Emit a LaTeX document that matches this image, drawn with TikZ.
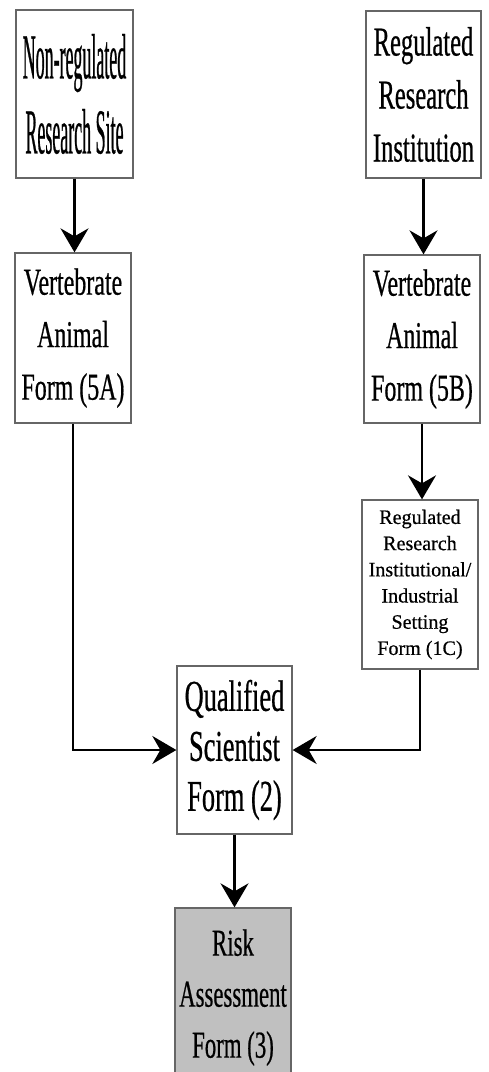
\documentclass[tikz,border=0pt]{standalone}
\usepackage{fontspec}
\setmainfont{Liberation Serif}
\newfontfamily\fA[FakeStretch=0.28,FakeBold=0.4]{Liberation Serif}
\newfontfamily\fB[FakeStretch=0.6,FakeBold=0.5]{Liberation Serif}
\newfontfamily\fC[FakeStretch=0.63,FakeBold=0.5]{Liberation Serif}
\newfontfamily\fE[FakeStretch=0.98,FakeBold=0.5]{Liberation Serif}
\newfontfamily\fF[FakeStretch=0.6,FakeBold=0.5]{Liberation Serif}
\usetikzlibrary{arrows.meta}
\definecolor{riskgray}{HTML}{C0C0C0}
\begin{document}
\begin{tikzpicture}[x=1pt,y=-1pt,
  box/.style={draw=black!60, line width=1.3pt, inner sep=0pt, align=center, fill=white},
  arr/.style={line width=2.2pt, -{Stealth[length=24pt,width=28pt,inset=8pt]}}]
\useasboundingbox (0,0) rectangle (488,1072);
\node[box, minimum width=117pt, minimum height=168pt, font=\fA\fontsize{64}{75}\selectfont] (A) at (74.5,94) {Non-regulated\\Research Site};
\node[box, minimum width=115pt, minimum height=167pt, font=\fB\fontsize{41}{53}\selectfont] (B) at (423.5,94.5) {Regulated\\Research\\Institution};
\node[box, minimum width=116pt, minimum height=170pt, font=\fC\fontsize{38}{52.5}\selectfont] (C) at (73,338) {Vertebrate\\Animal\\Form (5A)};
\node[box, minimum width=116pt, minimum height=168pt, font=\fC\fontsize{38}{52.5}\selectfont] (D) at (422,339) {Vertebrate\\Animal\\Form (5B)};
\node[box, minimum width=116pt, minimum height=169pt, font=\fE\fontsize{20.5}{26.2}\selectfont] (E) at (420,584.5) {Regulated\\Research\\Institutional/\\Industrial\\Setting\\Form (1C)};
\node[box, minimum width=115pt, minimum height=168pt, font=\fF\fontsize{44}{50}\selectfont] (F) at (234.5,750) {Qualified\\Scientist\\Form (2)};
\node[box, fill=riskgray, minimum width=116pt, minimum height=179pt, font=\fF\fontsize{38}{51}\selectfont] (G) at (233,997.5) {Risk\\Assessment\\Form (3)};
\draw[arr] (A.south) -- (A.south |- C.north);
\draw[arr] (B.south) -- (B.south |- D.north);
\draw[arr] (D.south) -- (D.south |- E.north);
\draw[arr] (C.south) |- (F.west);
\draw[arr] (E.south) |- (F.east);
\draw[arr] (F.south) -- (F.south |- G.north);
\end{tikzpicture}
\end{document}
